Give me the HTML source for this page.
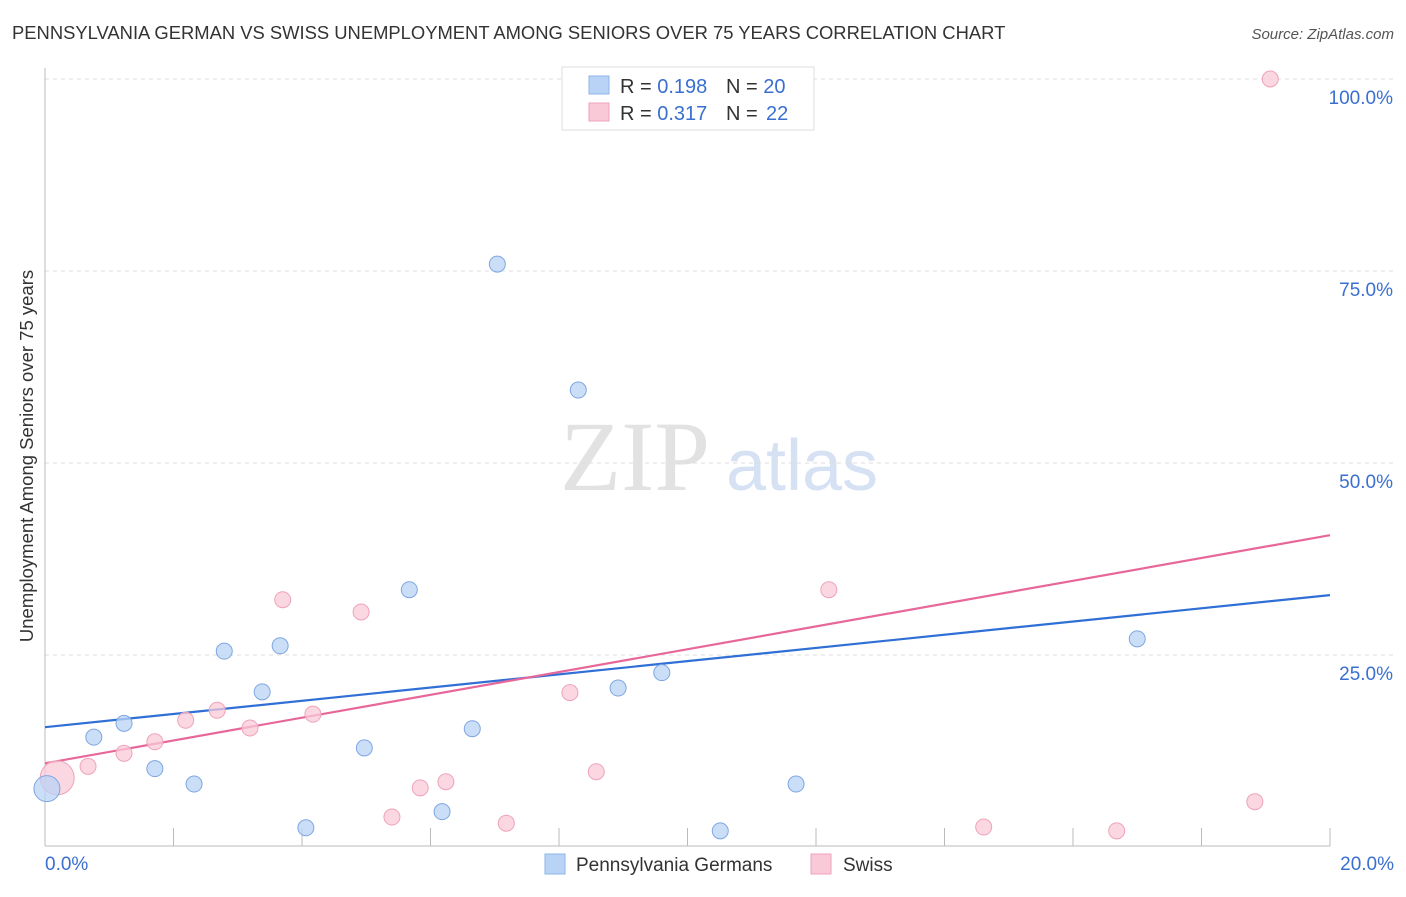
<!DOCTYPE html>
<html><head><meta charset="utf-8"><style>
body{margin:0;background:#fff;font-family:"Liberation Sans",sans-serif;}
</style></head><body>
<svg id="chart" width="1406" height="892" viewBox="0 0 1406 892" xmlns="http://www.w3.org/2000/svg" font-family="Liberation Sans, sans-serif">
<text x="12" y="39" font-size="18.4" fill="#333">PENNSYLVANIA GERMAN VS SWISS UNEMPLOYMENT AMONG SENIORS OVER 75 YEARS CORRELATION CHART</text>
<text x="1394" y="39" font-size="15" fill="#555" font-style="italic" text-anchor="end">Source: ZipAtlas.com</text>
<text x="33" y="456" font-size="18.5" fill="#333" text-anchor="middle" transform="rotate(-90 33 456)">Unemployment Among Seniors over 75 years</text>
<g>
<text x="635" y="490" font-size="100" fill="#e2e2e2" style="font-family:'Liberation Serif',serif" text-anchor="middle">ZIP</text>
<text x="802" y="490" font-size="72" fill="#d6e2f4" text-anchor="middle">atlas</text>
</g>
<g id="grid"></g><g id="axes"></g><g id="lines"></g><g id="pts"></g>
<g>
<rect x="562" y="67" width="252" height="63" fill="#fff" stroke="#ddd"/>
<rect x="589" y="76" width="20" height="18" fill="#b9d3f6" stroke="#8fb4ea"/>
<text x="620" y="93" font-size="20" fill="#333">R = <tspan fill="#3a6fd0">0.198</tspan></text>
<text x="726" y="93" font-size="20" fill="#333">N = <tspan fill="#3a6fd0">20</tspan></text>
<rect x="589" y="103" width="20" height="18" fill="#f9c9d8" stroke="#eea3ba"/>
<text x="620" y="120" font-size="20" fill="#333">R = <tspan fill="#3a6fd0">0.317</tspan></text>
<text x="726" y="120" font-size="20" fill="#333">N = <tspan x="766" fill="#3a6fd0">22</tspan></text>
</g>
<g>
<rect x="545" y="854" width="20" height="20" fill="#b9d3f6" stroke="#8fb4ea"/>
<text x="576" y="871" font-size="19" fill="#333">Pennsylvania Germans</text>
<rect x="811" y="854" width="20" height="20" fill="#f9c9d8" stroke="#eea3ba"/>
<text x="843" y="871" font-size="19" fill="#333">Swiss</text>
</g>
</svg>
<script>
const blueX=[0.03,0.76,1.23,1.71,2.32,2.79,3.38,3.66,4.06,4.97,5.67,6.18,6.65,7.04,8.30,8.92,9.60,10.51,11.69,17.00];
const blueY=[7.6,14.3,16.1,10.2,8.2,25.5,20.2,26.2,2.5,12.9,33.5,4.6,15.4,75.9,59.5,20.7,22.7,2.1,8.2,27.1];
const pinkX=[0.19,0.67,1.23,1.71,2.19,2.68,3.19,3.70,4.17,4.92,5.40,5.84,6.24,7.18,8.17,8.58,10.18,12.20,14.61,16.68,18.83,19.07];
const pinkY=[9.0,10.5,12.2,13.7,16.5,17.8,15.5,32.2,17.3,30.6,3.9,7.7,8.5,3.1,20.1,9.8,99.9,33.5,2.6,2.1,5.9,100];
const blueTrend=[15.6,32.8];
const pinkTrend=[10.9,40.6];
const yTicks=[25,50,75,100];
const yTickLabels=["25.0%","50.0%","75.0%","100.0%"];
const xTickLabels=["0.0%","20.0%"];
const NS="http://www.w3.org/2000/svg";
const X=v=>45+v*64.25, Y=v=>847-v*7.68;
function mk(t,a,p){const e=document.createElementNS(NS,t);for(const k in a)e.setAttribute(k,a[k]);document.getElementById(p).appendChild(e);return e;}
yTicks.forEach((t,i)=>{
 const g=mk('line',{x1:45,x2:1394,y1:Y(t),y2:Y(t),stroke:'#ddd','stroke-dasharray':'4,4'},'grid');
 
 
 const l=mk('text',{x:1393,y:Y(t)+25,'font-size':19,fill:'#3a6fd0','text-anchor':'end'},'axes');
 l.textContent=yTickLabels[i];
 
 
});
const ax=mk('line',{x1:45,x2:45,y1:68,y2:846,stroke:'#bbb'},'axes');


const bx=mk('line',{x1:45,x2:1330,y1:846,y2:846,stroke:'#bbb'},'axes');


for(let i=0;i<=10;i++){
 const t=mk('line',{x1:X(i*2),x2:X(i*2),y1:828,y2:846,stroke:'#bbb'},'axes');
 
 
}
[[0,'start',45],[1,'end',1394]].forEach(([i,a,x])=>{
 const l=mk('text',{x:x,y:870,'font-size':19,fill:'#3a6fd0','text-anchor':a},'axes');
 l.textContent=xTickLabels[i];
 
 
});
const bl=mk('line',{x1:X(0),y1:Y(blueTrend[0]),x2:X(20),y2:Y(blueTrend[1]),stroke:'#2f6fd6','stroke-width':2.2},'lines');


const pl=mk('line',{x1:X(0),y1:Y(pinkTrend[0]),x2:X(20),y2:Y(pinkTrend[1]),stroke:'#e8679a','stroke-width':2.2},'lines');


pinkX.forEach((x,i)=>{
 const c=mk('circle',{cx:X(x),cy:Y(pinkY[i]),r:i==0?17:8,fill:'#f9c9d8','fill-opacity':0.75,stroke:'#eea3ba'},'pts');
 
 
});
blueX.forEach((x,i)=>{
 const c=mk('circle',{cx:X(x),cy:Y(blueY[i]),r:i==0?13:8,fill:'#b9d3f6','fill-opacity':0.75,stroke:'#7ea6e2'},'pts');
 
 
});
</script>
</body></html>
